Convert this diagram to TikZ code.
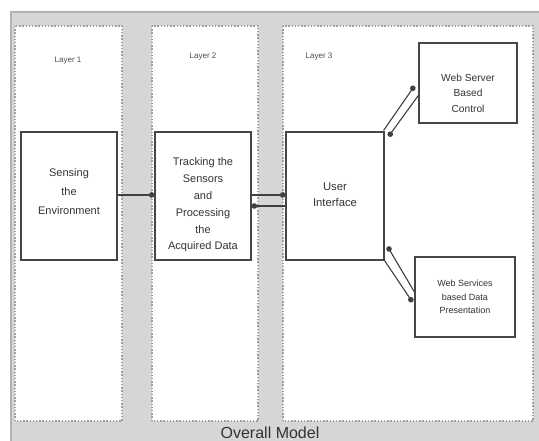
\documentclass[tikz,border=0pt]{standalone}
\usepackage{fontspec}
\setmainfont{Liberation Sans}
\usetikzlibrary{arrows.meta, calc, positioning}

\tikzset{
  layerbox/.style={draw=gray!75, line width=1.8pt, dash pattern={on 1.4pt off 1.8pt}, fill=white},
  blockbox/.style={draw=gray!55!black, line width=1.2pt, fill=white, inner sep=0pt},
  boxtext/.style={align=center, text=black!80, inner sep=0pt},
  layertext/.style={text=black!70, font=\fontsize{8}{10}\selectfont},
  dotarrow/.style={draw=black!75, line width=1.1pt, -{Circle[length=5.5pt, width=5.5pt]}},
}

\begin{document}
\begin{tikzpicture}[x=1pt,y=-1pt]
    \useasboundingbox (0,0) rectangle (539,441);
    \clip (0,0) rectangle (539,441);

    %Shape: Frame
    \draw [fill=gray!32, draw=gray!60, line width=2.5pt] (11,12) rectangle (570,470) ;
    %Shape: Layer 1
    \draw [layerbox] (15,26) rectangle (122,421) ;
    %Shape: Layer 2
    \draw [layerbox] (152,26) rectangle (258,421) ;
    %Shape: Layer 3
    \draw [layerbox] (283,26) rectangle (533,421) ;

    % Layer labels
    \node [layertext] (layer1) at (68,61) {Layer 1};
    \node [layertext] (layer2) at (203,57) {Layer 2};
    \node [layertext] (layer3) at (319,57) {Layer 3};

    % Blocks
    \node [blockbox, minimum width=96pt, minimum height=128pt] (sense) at (69,196) {};
    \node [boxtext, font=\fontsize{11}{19}\selectfont] (sensetext) at (69,192) {Sensing\\the\\Environment};

    \node [blockbox, minimum width=96pt, minimum height=128pt] (track) at (203,196) {};
    \node [boxtext, font=\fontsize{11}{16.8}\selectfont] (tracktext) at (203,205) {Tracking the\\Sensors\\and\\Processing\\the\\Acquired Data};

    \node [blockbox, minimum width=98pt, minimum height=128pt] (ui) at (335,196) {};
    \node [boxtext, font=\fontsize{11.3}{16}\selectfont] (uitext) at (335,195) {User\\Interface};

    \node [blockbox, minimum width=98pt, minimum height=80pt] (wsc) at (468,83) {};
    \node [boxtext, font=\fontsize{10.2}{15.5}\selectfont] (wsctext) at (468,93) {Web Server\\Based\\Control};

    \node [blockbox, minimum width=100pt, minimum height=80pt] (wsd) at (465,297) {};
    \node [boxtext, font=\fontsize{9}{13.5}\selectfont] (wsdtext) at (465,297) {Web Services\\based Data\\Presentation};

    % Connectors
    \draw [dotarrow] ($(sense.east)+(0,-1)$) -- ($(track.west)+(0,-1)$) ;
    \draw [dotarrow] ($(track.east)+(0,-1)$) -- ($(ui.west)+(0,-1)$) ;
    \draw [dotarrow] ($(ui.west)+(0,10)$) -- ($(track.east)+(0,10)$) ;

    \draw [dotarrow] ($(ui.north east)+(-1,-1)$) -- ($(wsc.west)+(-4,3)$) ;
    \draw [dotarrow] ($(wsc.west)+(1,11)$) -- ($(ui.north east)+(4,5)$) ;

    \draw [dotarrow] ($(wsd.west)+(0,-5)$) -- ($(ui.south east)+(3,-14)$) ;
    \draw [dotarrow] (ui.south east) -- ($(wsd.west)+(-2,5)$) ;

    % Text Node
    \node [anchor=base, text=black!80, font=\fontsize{16}{18}\selectfont] (overall) at (270,438) {Overall Model};
\end{tikzpicture}
\end{document}
